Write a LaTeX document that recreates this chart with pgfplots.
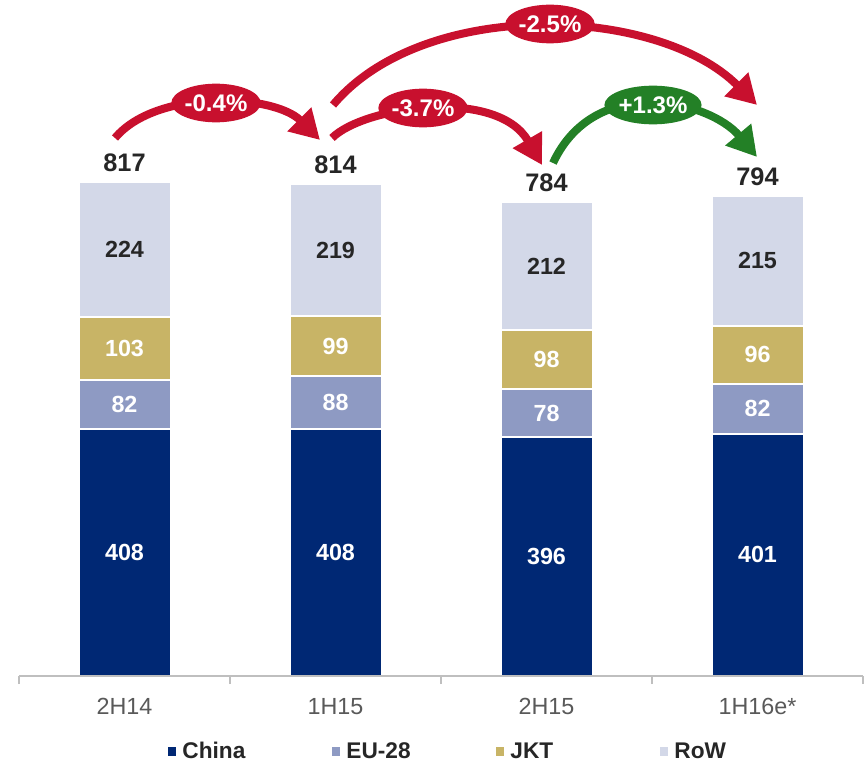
\documentclass[border=0pt]{standalone}
\usepackage{fontspec}
\setmainfont{Liberation Sans}
\usepackage{pgfplots}
\pgfplotsset{compat=1.18}
\usetikzlibrary{arrows.meta,shapes.geometric}
\definecolor{cChina}{RGB}{0,40,116}
\definecolor{cEU}{RGB}{142,154,195}
\definecolor{cJKT}{RGB}{200,180,102}
\definecolor{cRoW}{RGB}{211,216,232}
\definecolor{cText}{RGB}{38,38,38}
\definecolor{cTick}{RGB}{89,89,89}
\definecolor{cAxis}{RGB}{191,191,191}
\definecolor{cRed}{RGB}{200,16,46}
\definecolor{cGreen}{RGB}{35,128,38}
\newcommand\fs[1]{\fontsize{#1}{#1}\selectfont}
\begin{document}
\begin{tikzpicture}
\path[use as bounding box] (-14.25pt,-66.75pt) rectangle (635.25pt,507pt);
\pgfplotsset{base/.style={width=633pt,height=507pt,scale only axis,
  xmin=-0.5,xmax=3.5,ymin=0,ymax=1118,at={(0pt,0pt)},anchor=south west}}
\begin{axis}[base,
  ybar stacked, bar width=69pt, axis on top,
  axis y line=none, axis x line*=bottom,
  axis line style={cAxis, line width=1pt},
  xtick={0,1,2,3}, xticklabels={2H14,1H15,2H15,1H16e*},
  major tick length=0pt,
  minor xtick={-0.5,0.5,1.5,2.5,3.5}, minor tick length=6pt,
  tick align=outside, tick style={cAxis, line width=1pt},
  xticklabel style={anchor=base, yshift=-28.5pt, font=\fs{17.5pt}, text=cTick},
  legend columns=4,
  legend style={at={(0.507,-0.112)}, anchor=center, draw=none, fill=none,
    font=\fs{17pt}\bfseries, text=cText, column sep=0pt,
    nodes={inner xsep=0pt, inner ysep=1pt},
    /tikz/every odd column/.append style={column sep=4.5pt}},
  legend image code/.code={\fill[#1,draw=none] (0pt,-3pt) rectangle (6.5pt,3.5pt);},
]
\addplot[fill=cChina, draw=white, line width=1.5pt] coordinates {(0,408) (1,408) (2,396) (3,401)};
\addplot[fill=cEU, draw=white, line width=1.5pt] coordinates {(0,82) (1,88) (2,78) (3,82)};
\addplot[fill=cJKT, draw=white, line width=1.5pt] coordinates {(0,103) (1,99) (2,98) (3,96)};
\addplot[fill=cRoW, draw=white, line width=1.5pt] coordinates {(0,224) (1,219) (2,212) (3,215)};
\legend{\makebox[112pt][l]{China},\makebox[112pt][l]{EU-28},\makebox[112pt][l]{JKT},RoW}
\end{axis}
\begin{axis}[base, hide axis]
% white segment labels (China, EU-28, JKT)
\addplot[draw=none, mark=none, nodes near coords, point meta=explicit symbolic,
  nodes near coords style={anchor=center, font=\fs{17.5pt}\bfseries, text=white}]
  table[meta=l]{
x y l
0 204 408
1 204 408
2 198 396
3 200.5 401
0 449 82
1 452 88
2 435 78
3 442 82
0 541.5 103
1 545.5 99
2 523 98
3 531 96
};
% RoW labels
\addplot[draw=none, mark=none, nodes near coords, point meta=explicit symbolic,
  nodes near coords style={anchor=center, font=\fs{17.5pt}\bfseries, text=cText}]
  table[meta=l]{
x y l
0 705 224
1 704.5 219
2 678 212
3 686.5 215
};
% totals
\addplot[draw=none, mark=none, nodes near coords, point meta=explicit symbolic,
  nodes near coords style={anchor=base, yshift=7.5pt, font=\fs{19pt}\bfseries, text=cText}]
  table[meta=l]{
x y l
0 817 817
1 814 814
2 784 784
3 794 794
};
\end{axis}
% change arrows (pixel-based frame: x right, y down from top-left of image)
\begin{scope}[shift={(-14.25pt,507pt)}, x=0.75pt, y=-0.75pt,
  arr/.style={line width=6pt, -{Triangle[length=22pt,width=24pt]}},
  lab/.style={ellipse, inner sep=0pt, minimum width=67pt, minimum height=29pt,
    text=white, font=\fs{18pt}\bfseries}]
\draw[arr, cRed] (115,138) .. controls (156.8,88.2) and (274,94) .. (320,140);
\node[lab, fill=cRed] at (216,103) {-0.4\%};
\draw[arr, cRed] (332,138) .. controls (363.8,106.2) and (497,87.1) .. (542,165);
\node[lab, fill=cRed] at (423,108) {-3.7\%};
\draw[arr, cRed] (333,105) .. controls (423.7,-3) and (657.3,5.3) .. (757,105);
\node[lab, fill=cRed] at (550,24) {-2.5\%};
\draw[arr, cGreen] (553,163) .. controls (595.2,72.6) and (709.8,100.8) .. (757,157);
\node[lab, fill=cGreen] at (653,105) {+1.3\%};
\end{scope}
\end{tikzpicture}
\end{document}
